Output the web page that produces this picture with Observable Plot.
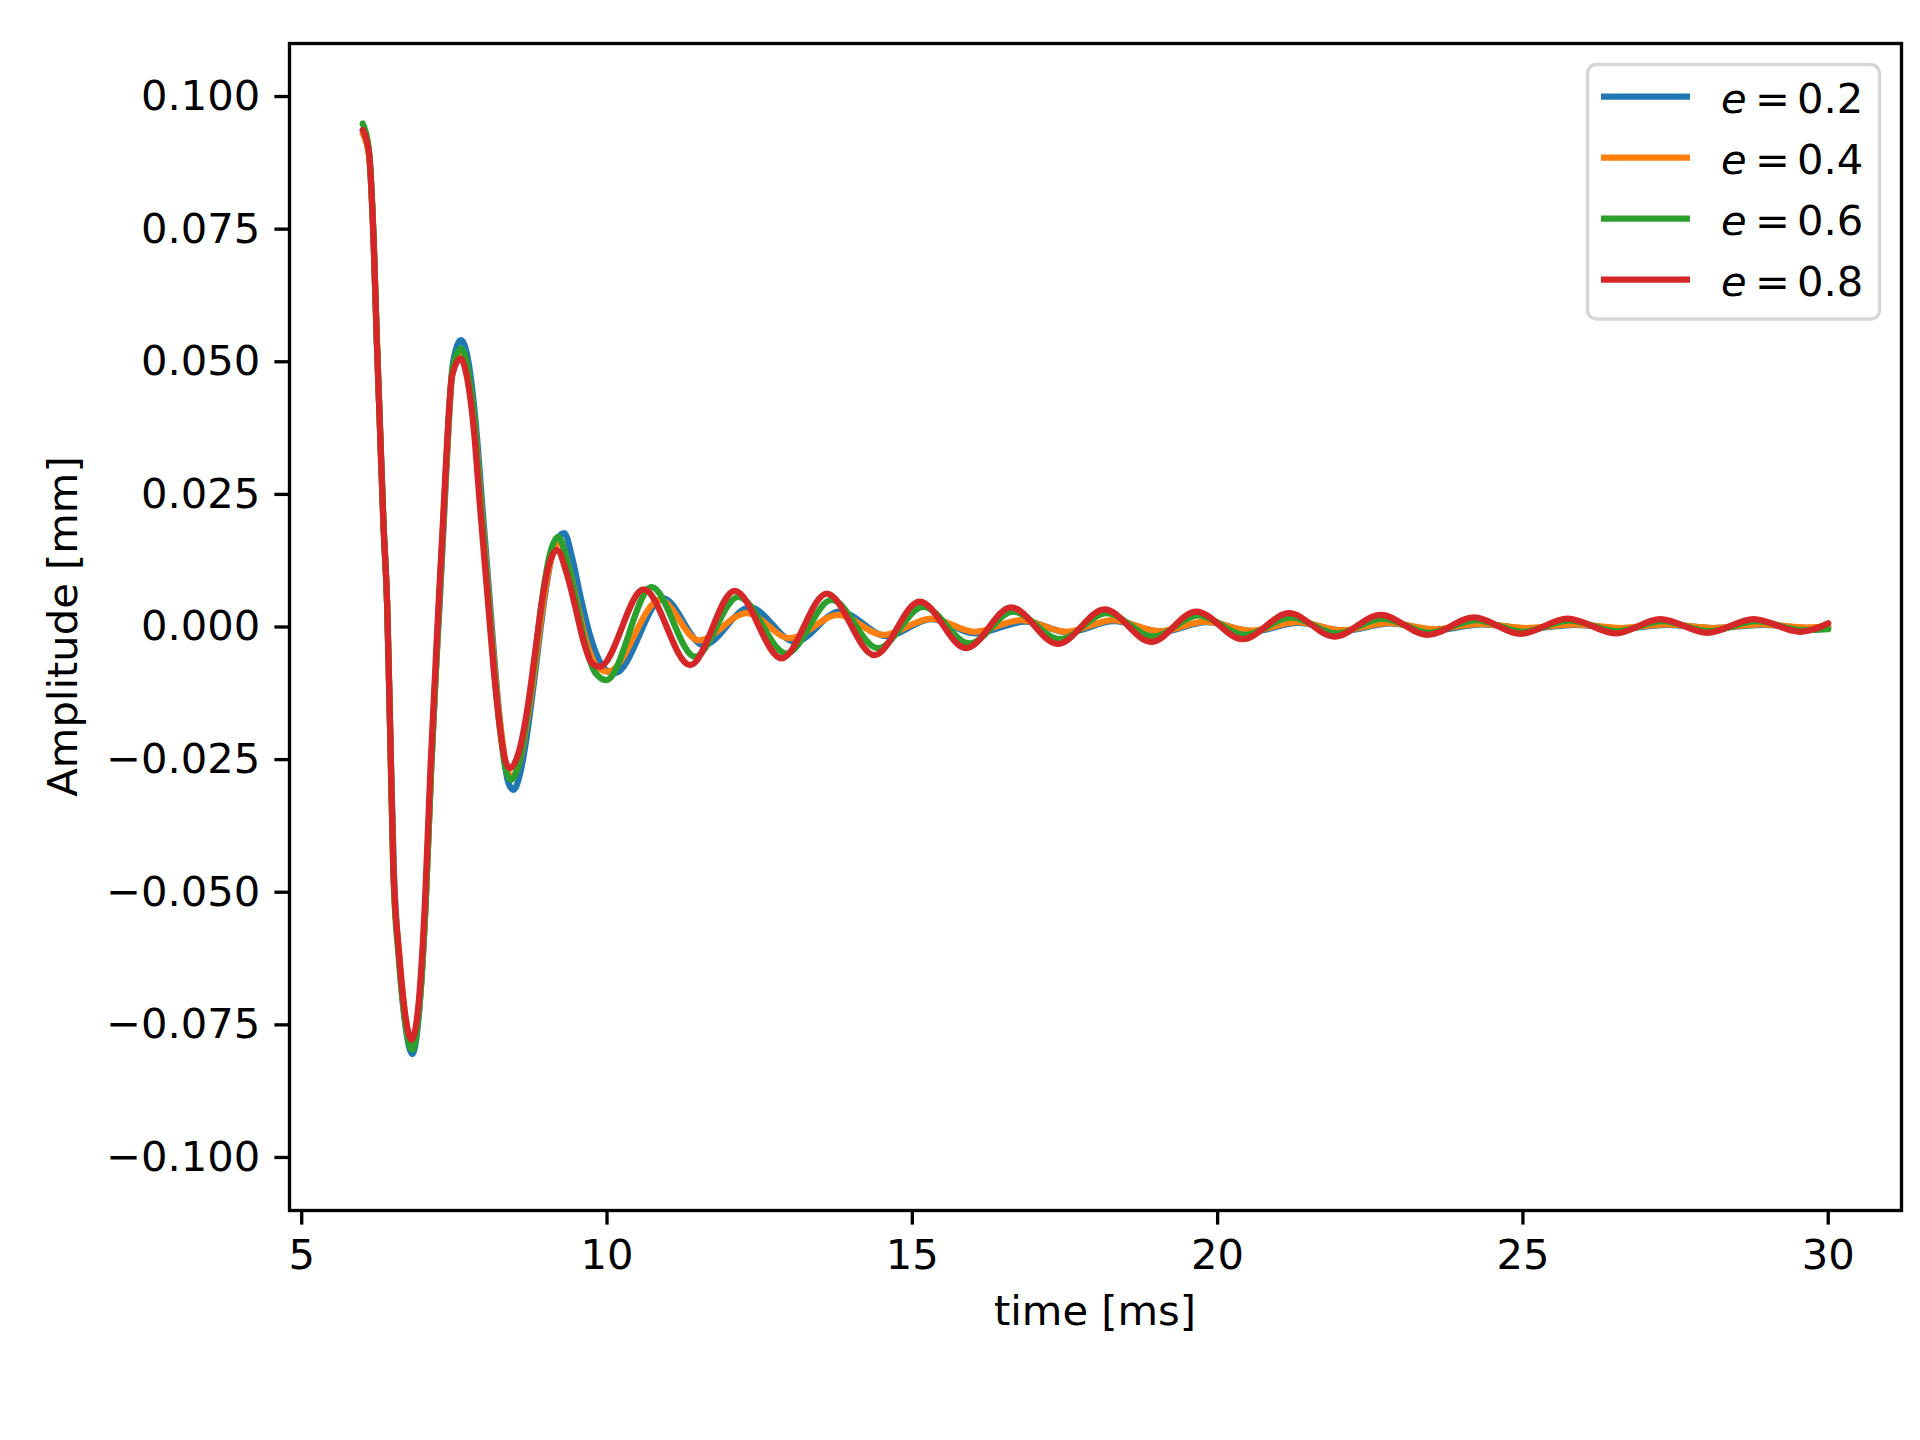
<!DOCTYPE html>
<html><head><meta charset="utf-8">
<script src="https://cdn.jsdelivr.net/npm/d3@7"></script>
<script src="https://cdn.jsdelivr.net/npm/@observablehq/plot@0.6"></script>
<style>
html,body{margin:0;padding:0;background:#fff;}
#chart{position:relative;width:1920px;height:1440px;}
</style></head><body><div id="chart"></div>
<script>
const seriesNames = ["e = 0.2", "e = 0.4", "e = 0.6", "e = 0.8"];
const seriesColors = ["#1f77b4", "#ff7f0e", "#2ca02c", "#d62728"];
const xTicks = [5, 10, 15, 20, 25, 30];
const yTicks = [-0.1, -0.075, -0.05, -0.025, 0, 0.025, 0.05, 0.075, 0.1];
const xLabel = "time [ms]";
const yLabel = "Amplitude [mm]";

// e = 0.2
const t02 = [6.00,6.10,6.18,6.23,6.28,6.34,6.40,6.45,6.51,6.60,6.71,6.81,6.93,7.03,7.12,7.20,7.26,7.33,7.40,7.48,7.61,7.73,7.85,7.96,8.07,8.18,8.29,8.38,8.47,8.58,8.70,8.83,8.96,9.08,9.19,9.30,9.43,9.57,9.72,9.88,10.02,10.13,10.92,11.58,12.34,13.08,13.81,14.58,15.31,16.02,16.85,17.55,18.30,19.08,19.82,20.58,21.32,22.08,22.82,23.58,24.33,25.08,25.87,26.62,27.37,28.12,28.92,29.67,30.00];
const v02 = [0.0935,0.0893,0.0720,0.0540,0.0382,0.0192,0.0040,-0.0203,-0.0460,-0.0630,-0.0760,-0.0805,-0.0715,-0.0522,-0.0268,-0.0078,0.0045,0.0205,0.0365,0.0500,0.0541,0.0500,0.0385,0.0225,0.0065,-0.0095,-0.0225,-0.0292,-0.0307,-0.0275,-0.0195,-0.0080,0.0040,0.0125,0.0166,0.0177,0.0130,0.0055,-0.0015,-0.0065,-0.0084,-0.0087,0.0054,-0.0034,0.0037,-0.0028,0.0029,-0.0017,0.0015,-0.0012,0.0010,-0.0010,0.0011,-0.0009,0.0009,-0.0008,0.0008,-0.0007,0.0007,-0.0006,0.0005,-0.0003,0.0004,-0.0003,0.0004,-0.0002,0.0004,-0.0002,0.0000];

// e = 0.4
const t04 = [6.00,6.10,6.18,6.23,6.28,6.34,6.40,6.45,6.50,6.60,6.71,6.81,6.93,7.03,7.12,7.20,7.25,7.32,7.39,7.47,7.61,7.72,7.84,7.94,8.05,8.16,8.27,8.35,8.44,8.57,8.73,8.85,8.96,9.08,9.22,9.38,9.53,9.68,9.84,10.02,10.87,11.50,12.29,12.99,13.79,14.52,15.31,16.02,16.78,17.52,18.28,19.05,19.80,20.55,21.30,22.05,22.80,23.55,24.30,25.05,25.85,26.60,27.35,28.10,28.90,29.65,30.00];
const v04 = [0.0930,0.0890,0.0720,0.0540,0.0380,0.0190,0.0040,-0.0202,-0.0455,-0.0620,-0.0745,-0.0790,-0.0708,-0.0518,-0.0265,-0.0076,0.0043,0.0195,0.0352,0.0480,0.0515,0.0480,0.0375,0.0230,0.0076,-0.0080,-0.0200,-0.0262,-0.0283,-0.0252,-0.0150,-0.0048,0.0050,0.0125,0.0158,0.0110,0.0035,-0.0035,-0.0075,-0.0084,0.0051,-0.0025,0.0026,-0.0021,0.0023,-0.0015,0.0016,-0.0009,0.0013,-0.0009,0.0013,-0.0008,0.0010,-0.0007,0.0009,-0.0006,0.0008,-0.0004,0.0006,-0.0002,0.0005,-0.0002,0.0005,-0.0002,0.0005,-0.0001,0.0001];

// e = 0.6
const t06 = [6.00,6.10,6.18,6.23,6.28,6.34,6.40,6.45,6.50,6.59,6.70,6.81,6.93,7.03,7.12,7.20,7.25,7.32,7.39,7.47,7.61,7.72,7.83,7.93,8.04,8.15,8.26,8.34,8.43,8.56,8.71,8.83,8.94,9.06,9.20,9.36,9.51,9.65,9.80,9.99,10.73,11.44,12.15,12.94,13.68,14.44,15.18,15.94,16.65,17.42,18.18,18.95,19.68,20.45,21.20,21.95,22.70,23.47,24.23,25.00,25.76,26.55,27.28,28.05,28.82,29.58,30.00];
const v06 = [0.0949,0.0900,0.0725,0.0545,0.0385,0.0195,0.0040,-0.0205,-0.0460,-0.0625,-0.0750,-0.0797,-0.0712,-0.0520,-0.0265,-0.0075,0.0045,0.0200,0.0358,0.0488,0.0525,0.0487,0.0385,0.0237,0.0080,-0.0078,-0.0205,-0.0268,-0.0288,-0.0255,-0.0155,-0.0050,0.0055,0.0135,0.0170,0.0118,0.0040,-0.0035,-0.0085,-0.0100,0.0075,-0.0056,0.0057,-0.0050,0.0051,-0.0040,0.0038,-0.0031,0.0029,-0.0023,0.0026,-0.0018,0.0022,-0.0015,0.0018,-0.0012,0.0016,-0.0011,0.0013,-0.0009,0.0012,-0.0008,0.0011,-0.0008,0.0011,-0.0006,-0.0004];

// e = 0.8
const t08 = [6.00,6.10,6.18,6.23,6.28,6.34,6.40,6.45,6.50,6.59,6.70,6.80,6.92,7.02,7.11,7.19,7.24,7.31,7.38,7.46,7.60,7.71,7.82,7.92,8.03,8.14,8.25,8.33,8.41,8.55,8.71,8.82,8.93,9.04,9.18,9.34,9.48,9.61,9.75,9.88,10.60,11.36,12.09,12.86,13.60,14.38,15.12,15.88,16.62,17.38,18.15,18.91,19.65,20.41,21.17,21.91,22.67,23.44,24.20,24.96,25.73,26.52,27.25,28.02,28.78,29.54,30.00];
const v08 = [0.0937,0.0896,0.0720,0.0540,0.0380,0.0190,0.0040,-0.0200,-0.0450,-0.0610,-0.0735,-0.0778,-0.0703,-0.0515,-0.0263,-0.0075,0.0040,0.0190,0.0346,0.0472,0.0506,0.0469,0.0371,0.0227,0.0076,-0.0075,-0.0194,-0.0250,-0.0266,-0.0238,-0.0144,-0.0050,0.0045,0.0114,0.0145,0.0101,0.0038,-0.0025,-0.0068,-0.0075,0.0071,-0.0072,0.0068,-0.0059,0.0063,-0.0053,0.0048,-0.0040,0.0037,-0.0032,0.0033,-0.0028,0.0029,-0.0023,0.0026,-0.0018,0.0023,-0.0015,0.0018,-0.0013,0.0016,-0.0012,0.0015,-0.0011,0.0015,-0.0009,0.0007];

const FS = 41.67;
const seriesArrays = [[t02, v02], [t04, v04], [t06, v06], [t08, v08]];
const tables = seriesArrays.map(([t, v], i) => t.map((x, j) => ({t: x, v: v[j], s: seriesNames[i]})));

const plot = Plot.plot({
  width: 1920, height: 1440,
  marginLeft: 289, marginRight: 19, marginTop: 43, marginBottom: 230,
  style: {fontFamily: "DejaVu Sans", fontSize: FS + "px", background: "#fff", color: "#000", overflow: "visible"},
  x: {domain: [4.8, 31.2]},
  y: {domain: [-0.11, 0.11]},
  color: {domain: seriesNames, range: seriesColors},
  marks: [
    ...tables.map(d => Plot.line(d, {x: "t", y: "v", stroke: "s", strokeWidth: 6.25, curve: "monotone-x"})),
    Plot.frame({stroke: "#000", strokeWidth: 3.33}),
    Plot.axisX({ticks: xTicks, tickSize: 14.6, tickPadding: 14.6, strokeWidth: 3.33, label: null, tickFormat: d => String(d)}),
    Plot.axisY({ticks: yTicks, tickSize: 14.6, tickPadding: 14.6, strokeWidth: 3.33, label: null, tickFormat: d3.format(".3f")})
  ]
});
document.getElementById("chart").appendChild(plot);

const svg = d3.select(plot);
svg.append("text").attr("x", 1095).attr("y", 1325).attr("text-anchor", "middle")
  .attr("font-size", FS).attr("fill", "#000").text(xLabel);
svg.append("text").attr("transform", "translate(76.5,626.5) rotate(-90)").attr("text-anchor", "middle")
  .attr("font-size", FS).attr("fill", "#000").text(yLabel);

// legend
const lg = svg.append("g");
lg.append("rect").attr("x", 1587.5).attr("y", 64.5).attr("width", 292).attr("height", 254.5)
  .attr("rx", 9).attr("fill", "#fff").attr("fill-opacity", 0.8).attr("stroke", "#d6d6d6").attr("stroke-width", 3.33);
seriesNames.forEach((name, i) => {
  const cy = 96.7 + i * 61;
  lg.append("line").attr("x1", 1601).attr("x2", 1690).attr("y1", cy).attr("y2", cy)
    .attr("stroke", seriesColors[i]).attr("stroke-width", 6.25);
  const parts = name.split(" = ");
  const tx = lg.append("text").attr("y", cy + 16.6).attr("font-size", FS).attr("fill", "#000")
    .attr("text-anchor", "start");
  tx.append("tspan").attr("x", 1721).attr("font-style", "italic").text(parts[0]);
  tx.append("tspan").attr("x", 1755).text("=");
  tx.append("tspan").attr("x", 1797).text(parts[1]);
});
</script></body></html>
